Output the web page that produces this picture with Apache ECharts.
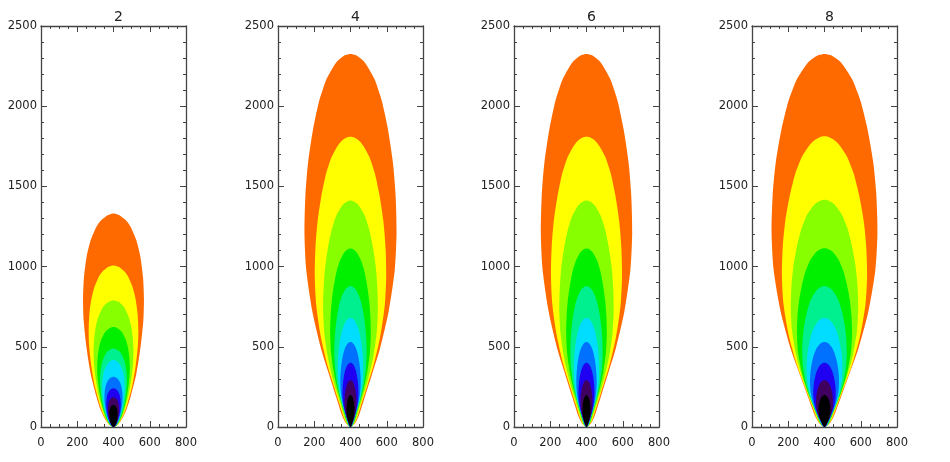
<!DOCTYPE html>
<html><head><meta charset="utf-8">
<script src="https://cdn.jsdelivr.net/npm/echarts@6/dist/echarts.min.js"></script>
<style>html,body{margin:0;padding:0;background:#fff}#c{width:950px;height:462px}</style>
</head><body><div id="c"></div>
<script>
// Panel titles
const panelTitles = ['2', '4', '6', '8'];
// Axis tick labels
const xTicks = [0, 200, 400, 600, 800];
const yTicks = [0, 500, 1000, 1500, 2000, 2500];
// Contour fill colours, outermost to innermost
const levelColors = ['#ff6a00', '#ffff00', '#88ff00', '#00f000', '#00f090', '#00ddff', '#0070ff', '#2000f0', '#400060', '#000000'];
// Source position of the plume (x)
const sourceX = 400;
// Contour apex heights and maximum half-widths per panel (outer -> inner)
const p1Tops   = [1331, 1007, 790, 624, 489, 417, 313, 241, 185, 137];
const p1Widths = [168, 137, 110, 90, 74, 62, 50, 40, 31, 23];
const p2Tops   = [2326, 1810, 1412, 1113, 879, 680, 530, 400, 292, 199];
const p2Widths = [254, 197, 151, 112, 89, 70, 56, 44, 33, 22];
const p3Tops   = [2326, 1810, 1412, 1113, 879, 680, 530, 400, 292, 199];
const p3Widths = [252, 196, 150, 112, 89, 70, 56, 44, 33, 22];
const p4Tops   = [2326, 1812, 1417, 1115, 879, 680, 530, 400, 292, 199];
const p4Widths = [292, 235, 186, 152, 123, 99, 80, 62, 47, 33];
// Contour outlines: height fraction and half-width fraction
const shortProfileH = [0, 0.01, 0.03, 0.08, 0.142, 0.25, 0.376, 0.5, 0.6, 0.7, 0.8, 0.87, 0.90, 0.93, 0.95, 0.965, 0.98, 0.99, 0.997, 1];
const shortProfileW = [0, 0.14, 0.25, 0.42, 0.56, 0.75, 0.89, 0.98, 1.0, 0.97, 0.88, 0.76, 0.68, 0.59, 0.51, 0.43, 0.31, 0.22, 0.11, 0];
const longProfileH  = [0, 0.01, 0.03, 0.08, 0.15, 0.21, 0.31, 0.42, 0.52, 0.62, 0.71, 0.80, 0.87, 0.90, 0.93, 0.95, 0.965, 0.98, 0.99, 0.997, 1];
const longProfileW  = [0, 0.10, 0.18, 0.31, 0.49, 0.64, 0.83, 0.96, 1.0, 0.98, 0.92, 0.81, 0.69, 0.615, 0.53, 0.445, 0.375, 0.29, 0.20, 0.11, 0];

const panelTops = [p1Tops, p2Tops, p3Tops, p4Tops];
const panelWidths = [p1Widths, p2Widths, p3Widths, p4Widths];
const panelProfH = [shortProfileH, longProfileH, longProfileH, longProfileH];
const panelProfW = [shortProfileW, longProfileW, longProfileW, longProfileW];
const gridLefts = [41, 278, 514, 752];
const gridW = 145, gridTop = 26, gridH = 401;

const chart = echarts.init(document.getElementById('c'), null, {renderer: 'canvas'});
const axisCol = '#444';
const labelFont = 'DejaVu Sans';
const grids = [], xAxes = [], yAxes = [], series = [], titles = [];
const plain = v => String(v);
gridLefts.forEach((L, i) => {
  grids.push({left: L, top: gridTop, width: gridW, height: gridH, containLabel: false});
  titles.push({text: panelTitles[i], left: L + gridW / 2, top: 5, textAlign: 'center',
    textStyle: {fontSize: 14, fontWeight: 'normal', color: '#222', fontFamily: labelFont}});
  const common = {gridIndex: i, type: 'value', splitLine: {show: false},
    axisLine: {show: true, onZero: false, lineStyle: {color: axisCol, width: 1.3}},
    axisTick: {show: true, inside: true, length: 6, lineStyle: {color: axisCol}},
    minorTick: {show: true, length: 3, lineStyle: {color: axisCol}}};
  xAxes.push(Object.assign({}, common, {position: 'bottom', min: xTicks[0], max: xTicks[xTicks.length - 1], interval: 200,
    minorTick: Object.assign({}, common.minorTick, {splitNumber: 4}),
    axisLabel: {show: true, fontSize: 11.5, color: '#222', margin: 10, fontFamily: labelFont, formatter: plain}}));
  xAxes.push(Object.assign({}, common, {position: 'top', min: xTicks[0], max: xTicks[xTicks.length - 1], interval: 200,
    minorTick: Object.assign({}, common.minorTick, {splitNumber: 4}), axisLabel: {show: false}}));
  yAxes.push(Object.assign({}, common, {position: 'left', min: yTicks[0], max: yTicks[yTicks.length - 1], interval: 500,
    minorTick: Object.assign({}, common.minorTick, {splitNumber: 5}),
    axisLabel: {show: true, fontSize: 11.5, color: '#222', margin: 4, fontFamily: labelFont, formatter: plain}}));
  yAxes.push(Object.assign({}, common, {position: 'right', min: yTicks[0], max: yTicks[yTicks.length - 1], interval: 500,
    minorTick: Object.assign({}, common.minorTick, {splitNumber: 5}), axisLabel: {show: false}}));
  const data = panelTops[i].map((t, k) => [t, panelWidths[i][k], k]);
  const ph = panelProfH[i], pw = panelProfW[i];
  series.push({
    type: 'custom', xAxisIndex: 2 * i, yAxisIndex: 2 * i, data: data, clip: true,
    renderItem: function (params, api) {
      const top = api.value(0), w = api.value(1), k = api.value(2);
      const pts = [];
      for (let j = 0; j < ph.length; j++) pts.push(api.coord([sourceX + w * pw[j], top * ph[j]]));
      for (let j = ph.length - 2; j > 0; j--) pts.push(api.coord([sourceX - w * pw[j], top * ph[j]]));
      return {type: 'polygon', shape: {points: pts, smooth: 0.25}, style: {fill: levelColors[k], stroke: null}};
    }
  });
});
chart.setOption({animation: false, title: titles, grid: grids, xAxis: xAxes, yAxis: yAxes, series: series});
</script></body></html>
